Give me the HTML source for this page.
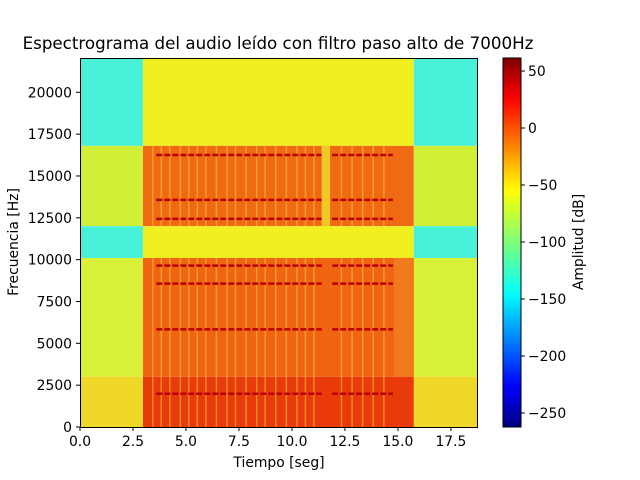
<!DOCTYPE html>
<html><head><meta charset="utf-8"><style>
body{margin:0;background:#fff;}
svg{display:block;font-family:"DejaVu Sans","Liberation Sans",sans-serif;}
</style></head><body>
<svg id="chart" width="640" height="480" viewBox="0 0 640 480">
<defs>
<linearGradient id="jet" x1="0" y1="1" x2="0" y2="0">
<stop offset="0" stop-color="#00007f"/><stop offset="0.11" stop-color="#0000ff"/>
<stop offset="0.36" stop-color="#00ffff"/><stop offset="0.5" stop-color="#7dff7a"/>
<stop offset="0.64" stop-color="#ffff00"/><stop offset="0.89" stop-color="#ff0000"/>
<stop offset="1" stop-color="#7f0000"/></linearGradient>
</defs>
<text x="278" y="49" font-size="16.7" text-anchor="middle">Espectrograma del audio leído con filtro paso alto de 7000Hz</text>
<g id="plot"></g>
<rect x="80.5" y="58.5" width="397" height="369" fill="none" stroke="#000" stroke-width="1"/>
<g id="xaxis"></g>
<g id="yaxis"></g>
<text x="279" y="467" font-size="13.9" text-anchor="middle">Tiempo [seg]</text>
<text transform="translate(18,242) rotate(-90)" font-size="13.9" text-anchor="middle">Frecuencia [Hz]</text>
<rect x="503" y="58" width="18" height="369" fill="url(#jet)" stroke="#000" stroke-width="1"/>
<g id="cbaxis"></g>
<text transform="translate(583,242) rotate(-90)" font-size="13.9" text-anchor="middle">Amplitud [dB]</text>
</svg>
<script>
const xTicks=[0,2.5,5,7.5,10,12.5,15,17.5];
const yTicks=[0,2500,5000,7500,10000,12500,15000,17500,20000];
const cbTicks=[50,0,-50,-100,-150,-200,-250];
const regionT0=[0,0,0,0,0, 2.97,2.97,2.97,2.97,2.97, 15.75,15.75,15.75,15.75,15.75, 11.4,14.8];
const regionT1=[2.97,2.97,2.97,2.97,2.97, 15.75,15.75,15.75,15.75,15.75, 18.75,18.75,18.75,18.75,18.75, 11.8,15.75];
const regionF0=[16800,12000,10100,3000,0, 16800,12000,10100,3000,0, 16800,12000,10100,3000,0, 12000,3000];
const regionF1=[22050,16800,12000,10100,3000, 22050,16800,12000,10100,3000, 22050,16800,12000,10100,3000, 16800,10100];
const regionC=["#48f0d8","#d0f038","#48f0d8","#d8f038","#f0d828", "#f0f020","#f06a14","#f0f020","#f06414","#e83a0a", "#48f0d8","#d0f038","#48f0d8","#d8f038","#f0d828", "#f0c828","#f07a1c"];
const harmonicF=[16250,13570,12440,9640,8570,5830,1990];
const lineStart=[3.6,11.9];
const lineEnd=[11.4,14.76];
const stripeT=[3.4,3.8,4.2,4.7,5.1,5.5,5.9,6.4,6.9,7.3,7.8,8.3,8.7,9.2,9.7,10.2,10.6,11.0,12.3,12.8,13.3,13.8,14.3];
const xMax=18.73,fMax=22050;
const X=t=>80+t/xMax*397, Y=f=>427-f/fMax*369, C=v=>128-(v)*1.14;
const NS="http://www.w3.org/2000/svg";
function mk(tag,parent,attrs){const e=document.createElementNS(NS,tag);for(const k in attrs)e.setAttribute(k,attrs[k]);parent.appendChild(e);return e;}
const plot=document.getElementById('plot');
for(let i=0;i<regionC.length;i++){
 const r=mk('rect',plot,{x:X(regionT0[i]),y:Y(regionF1[i]),width:X(regionT1[i])-X(regionT0[i]),height:Y(regionF0[i])-Y(regionF1[i]),fill:regionC[i]});
 
 
}
for(const t of stripeT){
 for(const [f0,f1] of [[0,10100],[12000,16800]]){
  const s=mk('rect',plot,{x:X(t),y:Y(f1),width:1.5,height:Y(f0)-Y(f1),fill:"#f8c030",opacity:0.6});
  
  
 }
}
for(const f of harmonicF){for(let j=0;j<lineStart.length;j++){
 const l=mk('line',plot,{x1:X(lineStart[j]),x2:X(lineEnd[j]),y1:Y(f),y2:Y(f),stroke:"#b80000","stroke-width":2.5,"stroke-dasharray":"6,2"});
 
 
}}
const xa=document.getElementById('xaxis');
for(const t of xTicks){
 const l=mk('line',xa,{x1:X(t),x2:X(t),y1:427,y2:431,stroke:"#000"});
 
 
 const tx=mk('text',xa,{x:X(t),y:446,"font-size":13.9,"text-anchor":"middle"});tx.textContent=t.toFixed(1);
 
 
}
const ya=document.getElementById('yaxis');
for(const f of yTicks){
 const l=mk('line',ya,{x1:76,x2:80,y1:Y(f),y2:Y(f),stroke:"#000"});
 
 
 const tx=mk('text',ya,{x:72,y:Y(f)+5,"font-size":13.9,"text-anchor":"end"});tx.textContent=f;
 
 
}
const ca=document.getElementById('cbaxis');
for(const v of cbTicks){
 const l=mk('line',ca,{x1:521,x2:525,y1:C(v),y2:C(v),stroke:"#000"});
 
 
 const tx=mk('text',ca,{x:528,y:C(v)+5,"font-size":13.9});tx.textContent=v<0?'\u2212'+(-v):v;
 
 
}
</script>
</body></html>
